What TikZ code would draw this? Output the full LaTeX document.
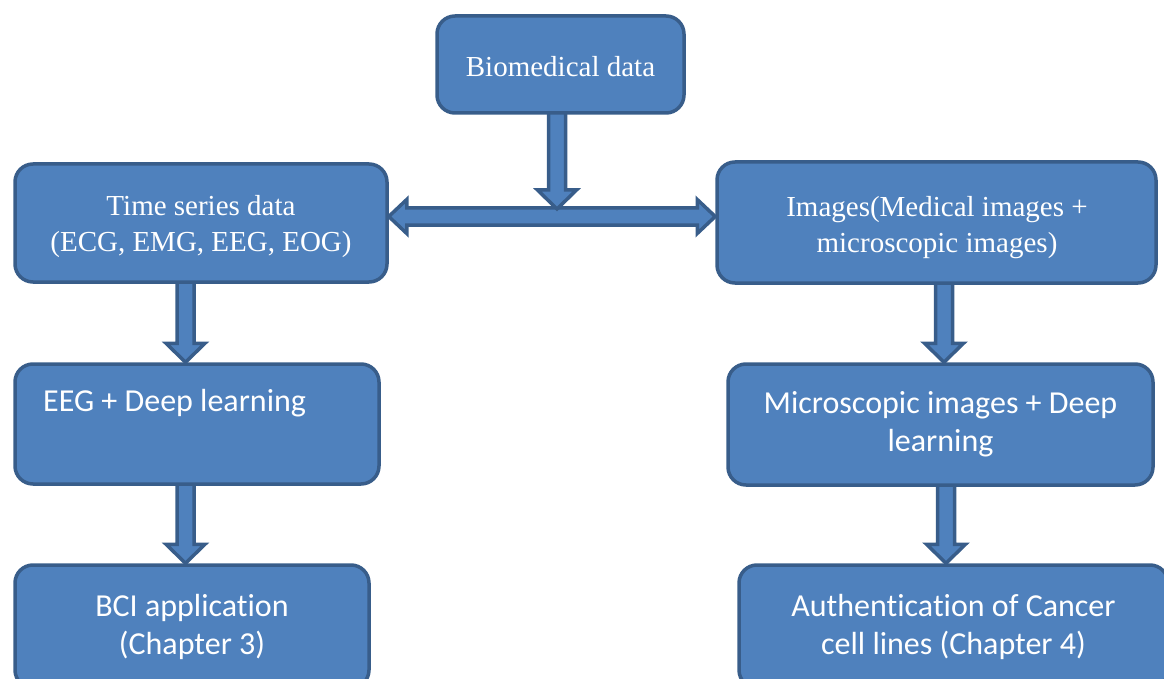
\documentclass[tikz,border=0pt]{standalone}
\usepackage{fontspec}
\setmainfont{Liberation Serif}
\newfontfamily\calfont[Ligatures={NoCommon}]{Carlito}
\usetikzlibrary{calc,backgrounds}
\definecolor{boxfill}{HTML}{4F81BD}
\definecolor{boxline}{HTML}{385D8A}
\tikzset{
  box/.style={draw=boxline, fill=boxfill, line width=3.5pt, rounded corners=18pt,
    text=white, align=center, inner sep=0pt},
  serif/.style={font=\fontsize{29}{36}\selectfont, text=white, align=center, inner sep=0pt},
  sans/.style={font=\calfont\fontsize{32}{38}\selectfont},
  arr/.style={draw=boxline, fill=boxfill, line width=3.5pt, line join=miter},
}
% vertical block arrow: #1 = x, #2 = start point, #3 = tip point
\newcommand\vblock[3]{%
  \path[arr] let \p0=(#1,0), \p1=#2, \p2=#3 in
    (\x0-8.5pt,\y1+4pt) -- (\x0-8.5pt,\y2+19pt) -- (\x0-19.5pt,\y2+19pt) -- (\x0,\y2)
    -- (\x0+19.5pt,\y2+19pt) -- (\x0+8.5pt,\y2+19pt) -- (\x0+8.5pt,\y1+4pt) -- cycle;}
\begin{document}
\begin{tikzpicture}[x=1pt,y=-1pt]
\useasboundingbox (0,0) rectangle (1164,679);
\clip (0,0) rectangle (1164,679);

\node[box, minimum width=247pt, minimum height=97pt] (bio) at (560.5,64.5) {};
\node[serif] (biot) at (560.5,66.5) {Biomedical data};
\node[box, minimum width=372pt, minimum height=118pt] (ts) at (201,223) {};
\node[serif] (tst) at (201,227) {Time series data\\(ECG, EMG, EEG, EOG)};
\node[box, minimum width=439pt, minimum height=121pt] (img) at (936.5,222.5) {};
\node[serif] (imgt) at (937,227.5) {Images(Medical images +\\microscopic images)};
\node[box, minimum width=364pt, minimum height=120pt] (eeg) at (197,424) {};
\node[sans, text=white, anchor=base west, inner sep=0pt] (eegt) at (43,411) {EEG + Deep learning};
\node[box, sans, minimum width=425pt, minimum height=121pt] (mic) at (940.5,424.5)
  {Microscopic images + Deep\\learning};
\node[box, sans, minimum width=354pt, minimum height=123pt] (bci) at (192,626.5)
  {BCI application\\(Chapter 3)};
\node[box, sans, minimum width=429pt, minimum height=123pt] (auth) at (953.5,626.5)
  {Authentication of Cancer\\cell lines (Chapter 4)};

\coordinate (junc) at (557,209);

\begin{scope}[on background layer]
  % double-headed horizontal arrow
  \path[arr] let \p0=(0,216.5), \p1=(ts.east), \p2=(img.west) in
    (\x1,\y0) -- (\x1+18pt,\y0+17pt) -- (\x1+18pt,\y0+8.5pt) -- (\x2-18pt,\y0+8.5pt)
    -- (\x2-18pt,\y0+17pt) -- (\x2,\y0) -- (\x2-18pt,\y0-17pt) -- (\x2-18pt,\y0-8.5pt)
    -- (\x1+18pt,\y0-8.5pt) -- (\x1+18pt,\y0-17pt) -- cycle;
  \vblock{557}{(bio.south)}{(junc)}
  \vblock{185.5}{(ts.south)}{(eeg.north)}
  \vblock{185.5}{(eeg.south)}{(bci.north)}
  \vblock{944}{(img.south)}{(mic.north)}
  \vblock{946}{(mic.south)}{(auth.north)}
\end{scope}
\end{tikzpicture}
\end{document}
